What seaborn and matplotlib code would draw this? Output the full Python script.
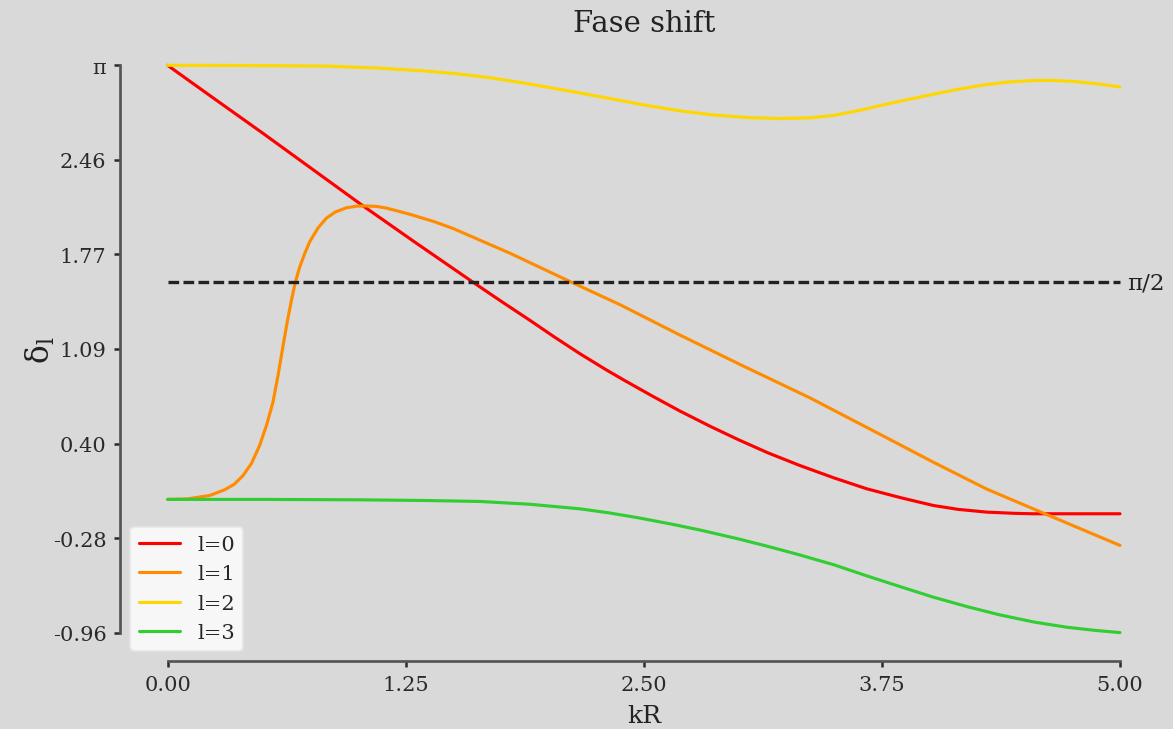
import numpy as np
import pandas as pd
import matplotlib
matplotlib.use("Agg")
import matplotlib.pyplot as plt
import seaborn as sns

# ---- data ----
x_l0 = [0.0, 0.25, 0.5, 0.75, 1.017, 1.3, 1.6, 1.75, 1.9, 2.03, 2.164, 2.3, 2.4, 2.55, 2.689, 2.85, 3.0, 3.15, 3.32, 3.5, 3.67, 3.85, 4.02, 4.15, 4.3, 4.45, 4.545, 4.75, 5.0]
y_l0 = [3.1416, 2.895, 2.65, 2.40, 2.133, 1.86, 1.575, 1.435, 1.298, 1.176, 1.055, 0.94, 0.86, 0.744, 0.64, 0.528, 0.43, 0.338, 0.245, 0.155, 0.077, 0.012, -0.044, -0.072, -0.092, -0.101, -0.104, -0.104, -0.104]

x_l1 = [0.0, 0.1, 0.22, 0.30, 0.35, 0.396, 0.44, 0.483, 0.52, 0.553, 0.58, 0.606, 0.63, 0.65, 0.67, 0.693, 0.72, 0.746, 0.79, 0.833, 0.88, 0.938, 0.99, 1.043, 1.1, 1.15, 1.271, 1.4, 1.5, 1.6, 1.7, 1.8, 1.9, 2.0, 2.1, 2.374, 2.689, 3.0, 3.372, 3.7, 4.019, 4.3, 4.606, 5.0]
y_l1 = [0.0, 0.003, 0.028, 0.07, 0.11, 0.173, 0.26, 0.39, 0.54, 0.703, 0.90, 1.112, 1.30, 1.44, 1.57, 1.68, 1.78, 1.865, 1.965, 2.035, 2.08, 2.11, 2.122, 2.124, 2.12, 2.108, 2.064, 2.01, 1.96, 1.90, 1.84, 1.78, 1.715, 1.65, 1.585, 1.41, 1.19, 0.98, 0.735, 0.50, 0.27, 0.075, -0.104, -0.333]

x_l2 = [0.0, 0.4, 0.833, 1.1, 1.359, 1.52, 1.691, 1.85, 1.989, 2.17, 2.339, 2.52, 2.689, 2.86, 3.039, 3.214, 3.372, 3.494, 3.63, 3.757, 3.89, 4.019, 4.15, 4.282, 4.41, 4.545, 4.65, 4.755, 4.88, 5.0]
y_l2 = [3.1416, 3.1405, 3.136, 3.122, 3.100, 3.08, 3.052, 3.018, 2.985, 2.94, 2.897, 2.85, 2.812, 2.783, 2.764, 2.756, 2.762, 2.778, 2.815, 2.855, 2.895, 2.932, 2.968, 2.999, 3.02, 3.032, 3.032, 3.025, 3.008, 2.985]

x_l3 = [0.0, 0.5, 1.0, 1.36, 1.64, 1.9, 2.164, 2.32, 2.479, 2.65, 2.8, 3.0, 3.16, 3.319, 3.5, 3.67, 3.85, 4.019, 4.2, 4.37, 4.55, 4.72, 4.87, 5.0]
y_l3 = [0.0, 0.0, -0.003, -0.008, -0.015, -0.035, -0.068, -0.098, -0.135, -0.180, -0.223, -0.287, -0.343, -0.402, -0.474, -0.553, -0.633, -0.707, -0.777, -0.836, -0.888, -0.925, -0.948, -0.964]

labels = ["l=0", "l=1", "l=2", "l=3"]
colors = ["#ff0000", "#ff8c00", "#ffd700", "#32cd32"]

xtick_values = [0.0, 1.25, 2.5, 3.75, 5.0]
xtick_labels = ["0.00", "1.25", "2.50", "3.75", "5.00"]
ytick_labels = ["-0.96", "-0.28", "0.40", "1.09", "1.77", "2.46", "π"]
half_pi = np.pi / 2

frames = []
for xs, ys, lab in zip([x_l0, x_l1, x_l2, x_l3], [y_l0, y_l1, y_l2, y_l3], labels):
    frames.append(pd.DataFrame({"kR": xs, "delta": ys, "l": lab}))
df = pd.concat(frames, ignore_index=True)

sns.set_theme(style="ticks")
plt.rcParams["font.family"] = ["DejaVu Serif", "DejaVu Sans"]
plt.rcParams["mathtext.fontset"] = "dejavuserif"
bg = "#d9d9d9"

fig, ax = plt.subplots(figsize=(1173 / 150, 730 / 150), dpi=150)
fig.patch.set_facecolor(bg)
ax.set_facecolor(bg)

sns.lineplot(data=df, x="kR", y="delta", hue="l", palette=colors, estimator=None,
             sort=True, linewidth=1.5, ax=ax)

ax.plot([0, 5], [half_pi, half_pi], color="#222222", linestyle=(0, (3.2, 1.3)), linewidth=1.6)
ax.text(5.04, half_pi, "π/2", va="center", ha="left", fontsize=11, color="#222222")

ymin = min(y_l3)
ytick_values = np.linspace(ymin, np.pi, len(ytick_labels))
ax.set_yticks(ytick_values)
ax.set_yticklabels(ytick_labels)
ax.set_xticks(xtick_values)
ax.set_xticklabels(xtick_labels)
ax.tick_params(labelsize=10, colors="#2a2a2a", width=1.2, length=3)

ax.set_title("Fase shift", fontsize=14, color="#222222", pad=1)
ax.set_xlabel("kR", fontsize=12, color="#222222", labelpad=5)
ax.set_ylabel(r"$\mathregular{\delta_l}$", fontsize=15, color="#222222", labelpad=-2)

leg = ax.legend(loc="lower left", fontsize=10)
leg.get_frame().set_edgecolor("#e6e6e6")

sns.despine(ax=ax, trim=True)
for s in ["left", "bottom"]:
    ax.spines[s].set_color("#555555")
    ax.spines[s].set_linewidth(1.3)

fig.subplots_adjust(left=0.1023, right=0.9954, bottom=0.0932, top=0.948)
fig.savefig("out.png", dpi=150, facecolor=bg)
